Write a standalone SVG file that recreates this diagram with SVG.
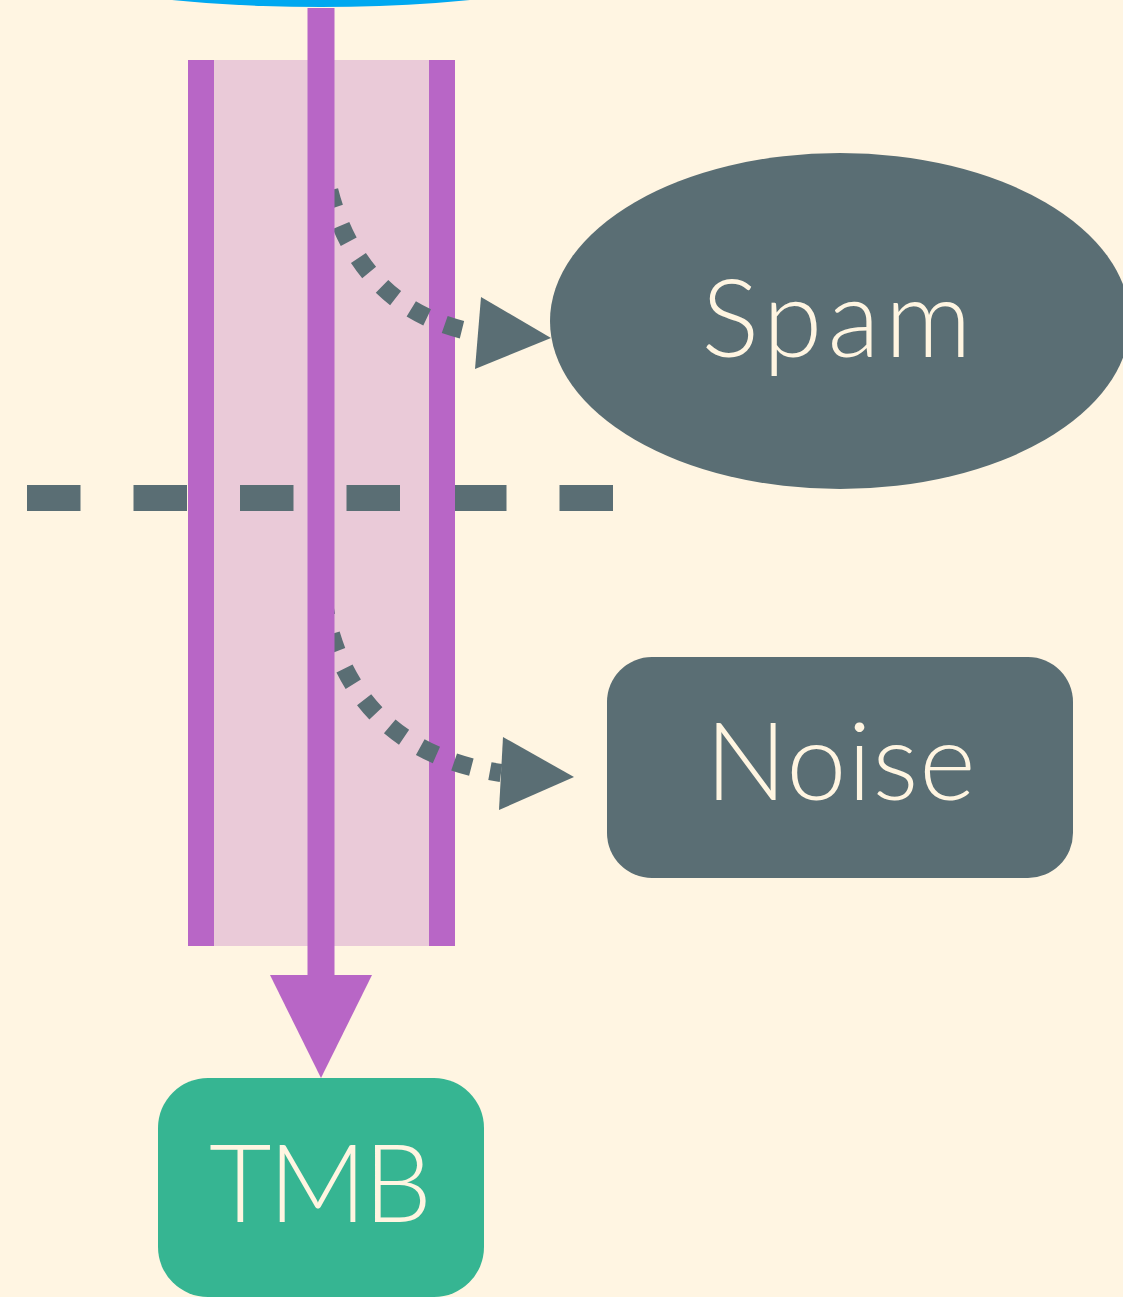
<svg xmlns="http://www.w3.org/2000/svg" width="1123" height="1297" viewBox="0 0 1123 1297">
<style>
.lbl{font-family:Lato,"Noto Sans","Liberation Sans",sans-serif;font-weight:300;font-size:108px;fill:#FFF5E1;text-anchor:middle}
.bar{fill:#B866C6}
.dot{fill:none;stroke:#5A6E74;stroke-width:18;stroke-dasharray:18 19}
.head{fill:#5A6E74}
</style>
<rect width="1123" height="1297" fill="#FFF5E2"/>
<g id="source">
<ellipse cx="321" cy="-46" rx="300" ry="53" fill="#00A8F0"/>
</g>
<g id="container">
<rect x="214" y="60" width="215" height="886" fill="#EACAD8"/>
</g>
<g id="divider">
<line x1="27" y1="498" x2="614" y2="498" stroke="#5A6E74" stroke-width="26" stroke-dasharray="53.5 53"/>
</g>
<g id="container-walls">
<rect class="bar" x="188" y="60" width="26" height="886"/>
<rect class="bar" x="429" y="60" width="26" height="886"/>
</g>
<g id="connectors">
<path class="dot" d="M321,140 C332,265 400,320 478,333" stroke-dashoffset="-14"/>
<polygon class="head" points="481,297 475,369 551,338"/>
<path class="dot" d="M321,580 C332,705 410,760 501,773" stroke-dashoffset="-18"/>
<polygon class="head" points="503,737 499,810 574,777"/>
<rect class="bar" x="307.5" y="8" width="27" height="968"/>
<polygon class="bar" points="270,975 372,975 321,1078"/>
</g>
<g id="spam">
<ellipse cx="840" cy="321" rx="290" ry="168" fill="#5A6E74"/>
<text class="lbl" x="839" y="357" letter-spacing="5">Spam</text>
</g>
<g id="noise">
<rect x="607" y="657" width="466" height="221" rx="45" fill="#5A6E74"/>
<text class="lbl" x="841" y="800" letter-spacing="1">Noise</text>
</g>
<g id="tmb">
<rect x="158" y="1078" width="326" height="219" rx="50" fill="#36B592"/>
<text class="lbl" x="319" y="1222" letter-spacing="-3">TMB</text>
</g>
</svg>
